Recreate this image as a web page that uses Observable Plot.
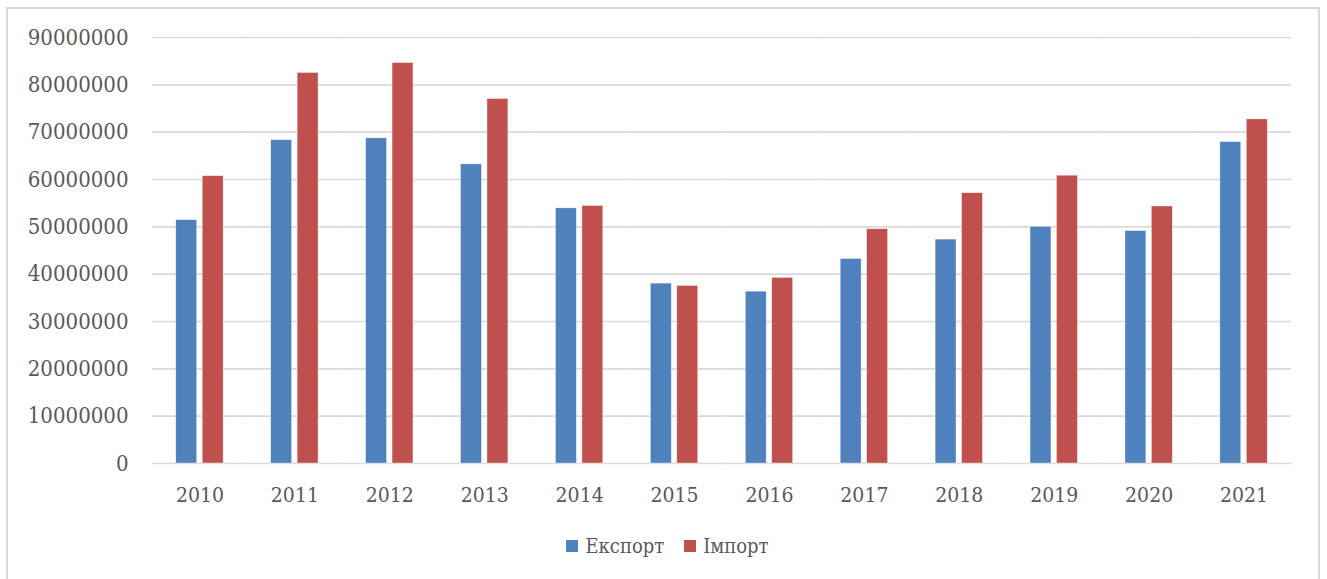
<!DOCTYPE html>
<html>
<head>
<meta charset="utf-8">
<script src="https://cdn.jsdelivr.net/npm/d3@7"></script>
<script src="https://cdn.jsdelivr.net/npm/@observablehq/plot@0.6"></script>
<style>
  html, body { margin: 0; padding: 0; background: #fff; }
  body { width: 1327px; height: 579px; position: relative; overflow: hidden; }
  #frame { position: absolute; left: 6px; top: 7px; width: 1314px; height: 600px; border: 2px solid #d9d9d9; box-sizing: border-box; }
  #chart { position: absolute; left: 0; top: 0; }
  #legend { position: absolute; left: 0; top: 532px; width: 1327px; height: 28px; display: flex; justify-content: center; align-items: center; gap: 20px; padding-left: 8px; box-sizing: border-box;
    font-family: "DejaVu Serif Condensed", "DejaVu Serif", serif; font-stretch: condensed; font-size: 20px; color: #595959; }
  .item { display: flex; align-items: center; gap: 7px; }
  .sw { width: 12px; height: 12px; display: inline-block; }
</style>
</head>
<body>
<div id="frame"></div>
<div id="chart"></div>
<div id="legend"></div>
<script>
const years = ["2010","2011","2012","2013","2014","2015","2016","2017","2018","2019","2020","2021"];
const seriesNames = ["Експорт", "Імпорт"];
const seriesColors = ["#4f81bd", "#c0504d"];
const exportValues = [51400000, 68300000, 68700000, 63200000, 53900000, 38000000, 36300000, 43200000, 47300000, 50000000, 49100000, 67900000];
const importValues = [60700000, 82500000, 84600000, 77000000, 54400000, 37500000, 39200000, 49500000, 57100000, 60800000, 54300000, 72700000];
const yTicks = [0, 10000000, 20000000, 30000000, 40000000, 50000000, 60000000, 70000000, 80000000, 90000000];

const data = [];
years.forEach((y, i) => {
  data.push({year: y, series: seriesNames[0], value: exportValues[i]});
  data.push({year: y, series: seriesNames[1], value: importValues[i]});
});

const font = '"DejaVu Serif Condensed", "DejaVu Serif", serif';

const chart = Plot.plot({
  width: 1327,
  height: 520,
  marginLeft: 152,
  marginRight: 36,
  marginTop: 37,
  marginBottom: 57,
  style: {fontFamily: font, fontSize: "21px", color: "#595959", background: "transparent", fontStretch: "condensed"},
  fx: {domain: years, padding: 0, round: false, label: null},
  x: {domain: seriesNames, paddingInner: 0.21, paddingOuter: 0.9, round: false, axis: null},
  y: {domain: [0, 90000000], label: null},
  color: {domain: seriesNames, range: seriesColors},
  marks: [
    Plot.gridY(yTicks, {stroke: "#d9d9d9", strokeOpacity: 1, strokeWidth: 1.6}),
    Plot.axisY(yTicks, {tickSize: 0, tickPadding: 24, tickFormat: d3.format("d"), label: null, fontSize: 22}),
    Plot.barY(data, {fx: "year", x: "series", y: "value", fill: "series", stroke: "#ffffff", strokeWidth: 0.6, strokeOpacity: 0.6}),
    Plot.axisFx({anchor: "bottom", tickSize: 0, tickPadding: 24, label: null, fontSize: 21})
  ]
});
document.getElementById("chart").appendChild(chart);

const legend = document.getElementById("legend");
seriesNames.forEach((s, i) => {
  const item = document.createElement("div");
  item.className = "item";
  const sw = document.createElement("span");
  sw.className = "sw";
  sw.style.background = seriesColors[i];
  const t = document.createElement("span");
  t.textContent = s;
  item.appendChild(sw);
  item.appendChild(t);
  legend.appendChild(item);
});
</script>
</body>
</html>
